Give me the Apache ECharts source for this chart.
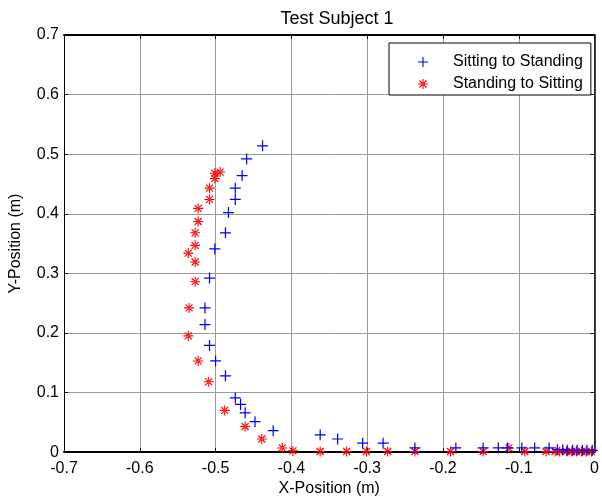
<!DOCTYPE html>
<html>
<head>
<meta charset="utf-8">
<script src="https://cdn.jsdelivr.net/npm/echarts@6/dist/echarts.min.js"></script>
<style>
  html, body { margin: 0; padding: 0; background: #fff; overflow: hidden; }
  #chart { width: 602px; height: 502px; }
</style>
</head>
<body>
<div id="chart"></div>
<script>
// Sitting to Standing (blue +)
const sitX = [-0.003, -0.010, -0.016, -0.023, -0.029, -0.036, -0.042, -0.049, -0.060, -0.079, -0.096, -0.115, -0.127, -0.147, -0.183, -0.237,
  -0.279, -0.306, -0.339, -0.362, -0.424, -0.448, -0.461, -0.467, -0.474, -0.487, -0.500, -0.508, -0.514, -0.514, -0.508, -0.501,
  -0.487, -0.483, -0.474, -0.474, -0.465, -0.459, -0.438]
const sitY = [0.003, 0.003, 0.003, 0.003, 0.003, 0.003, 0.004, 0.004, 0.007, 0.007, 0.007, 0.007, 0.007, 0.007, 0.007, 0.007,
  0.015, 0.015, 0.022, 0.029, 0.036, 0.051, 0.066, 0.080, 0.091, 0.128, 0.153, 0.179, 0.214, 0.242, 0.292, 0.341,
  0.368, 0.402, 0.424, 0.443, 0.464, 0.492, 0.514]

// Standing to Sitting (red *)
const standX = [-0.004, -0.011, -0.017, -0.024, -0.030, -0.037, -0.046, -0.052, -0.064, -0.092, -0.113, -0.147, -0.190, -0.237,
  -0.273, -0.301, -0.327, -0.362, -0.398, -0.412, -0.439, -0.461, -0.488, -0.509, -0.523, -0.536, -0.535, -0.527, -0.527,
  -0.536, -0.527, -0.527, -0.523, -0.523, -0.508, -0.508, -0.501, -0.501, -0.494]
const standY = [0.001, 0.001, 0.001, 0.001, 0.001, 0.001, 0.001, 0.001, 0.001, 0.001, 0.007, 0.001, 0.001, 0.001,
  0.001, 0.001, 0.001, 0.001, 0.002, 0.007, 0.022, 0.043, 0.070, 0.118, 0.153, 0.195, 0.242, 0.286, 0.319,
  0.334, 0.347, 0.368, 0.387, 0.409, 0.424, 0.443, 0.459, 0.468, 0.470]

const xTicks = [-0.7, -0.6, -0.5, -0.4, -0.3, -0.2, -0.1, 0]
const yTicks = [0, 0.1, 0.2, 0.3, 0.4, 0.5, 0.6, 0.7]

const plusPath = 'path://M0,4.45H10V5.55H0Z M4.45,0H5.55V10H4.45Z'
const starPath = 'path://M0,4.45H10V5.55H0Z M4.45,0H5.55V10H4.45Z M1.1,1.9L1.9,1.1L8.9,8.1L8.1,8.9Z M1.1,8.1L1.9,8.9L8.9,1.9L8.1,1.1Z'

const font = 'Liberation Sans, Arial, sans-serif'
const fmt = v => {
  const r = Math.round(v * 10) / 10
  return r === 0 ? '0' : String(r)
}

const chart = echarts.init(document.getElementById('chart'))

const axisCommon = {
  type: 'value',
  interval: 0.1,
  axisTick: { show: true, inside: true, length: 4, lineStyle: { color: '#000', width: 1 } },
  minorTick: { show: false }
}

chart.setOption({
  animation: false,
  backgroundColor: '#fff',
  title: {
    text: 'Test Subject 1',
    left: 332,
    textAlign: 'center',
    top: 5,
    textStyle: { fontFamily: font, fontSize: 18, fontWeight: 'normal', color: '#000' }
  },
  legend: {
    orient: 'vertical',
    left: 389,
    top: 43,
    padding: [11, 8, 3, 29],
    itemWidth: 50,
    itemHeight: 10,
    itemGap: 6,
    backgroundColor: '#fff',
    borderColor: '#000',
    borderWidth: 1,
    borderRadius: 0,
    textStyle: { fontFamily: font, fontSize: 16, color: '#000' },
    data: ['Sitting to Standing', 'Standing to Sitting']
  },
  grid: { left: 64, right: 2, top: 35, bottom: 45, containLabel: false },
  xAxis: [
    Object.assign({}, axisCommon, {
      min: xTicks[0],
      max: xTicks[xTicks.length - 1],
      position: 'bottom',
      name: 'X-Position (m)',
      nameLocation: 'middle',
      nameGap: 27,
      nameTextStyle: { fontFamily: font, fontSize: 16, color: '#000' },
      axisLine: { show: true, onZero: false, lineStyle: { color: '#000', width: 2 } },
      axisLabel: { margin: 8, fontFamily: font, fontSize: 16, color: '#000', formatter: fmt, showMaxLabel: true, showMinLabel: true },
      splitLine: { show: true, lineStyle: { color: '#9a9a9a', width: 1 } }
    }),
    Object.assign({}, axisCommon, {
      min: xTicks[0],
      max: xTicks[xTicks.length - 1],
      position: 'top',
      axisLine: { show: true, onZero: false, lineStyle: { color: '#000', width: 2 } },
      axisLabel: { show: false },
      splitLine: { show: false }
    })
  ],
  yAxis: [
    Object.assign({}, axisCommon, {
      min: yTicks[0],
      max: yTicks[yTicks.length - 1],
      position: 'left',
      name: 'Y-Position (m)',
      nameLocation: 'middle',
      nameGap: 40,
      nameTextStyle: { fontFamily: font, fontSize: 16, color: '#000' },
      axisLine: { show: true, onZero: false, lineStyle: { color: '#000', width: 1 } },
      axisLabel: { margin: 5, fontFamily: font, fontSize: 16, color: '#000', formatter: fmt },
      splitLine: { show: true, lineStyle: { color: '#9a9a9a', width: 1 } }
    }),
    Object.assign({}, axisCommon, {
      min: yTicks[0],
      max: yTicks[yTicks.length - 1],
      position: 'right',
      axisLine: { show: true, onZero: false, lineStyle: { color: '#000', width: 1.5 } },
      axisLabel: { show: false },
      splitLine: { show: false }
    })
  ],
  series: [
    {
      name: 'Sitting to Standing',
      type: 'scatter',
      symbol: plusPath,
      symbolSize: 11,
      itemStyle: { color: '#0000ff', opacity: 1 },
      data: sitX.map((x, i) => [x, sitY[i]]),
      z: 3
    },
    {
      name: 'Standing to Sitting',
      type: 'scatter',
      symbol: starPath,
      symbolSize: 10,
      itemStyle: { color: '#ff0000', opacity: 1 },
      data: standX.map((x, i) => [x, standY[i]]),
      z: 2
    }
  ]
})
</script>
</body>
</html>
